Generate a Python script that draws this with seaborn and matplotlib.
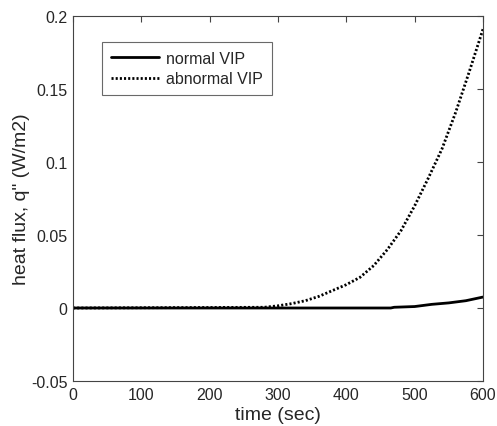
import matplotlib
matplotlib.use("Agg")
import matplotlib.pyplot as plt
import seaborn as sns
import pandas as pd

normal_t = [0, 100, 200, 300, 400, 465, 470, 500, 525, 550, 575, 600]
normal_q = [0, 0, 0, 0, 0, 0, 0.0005, 0.001, 0.0025, 0.0035, 0.005, 0.0075]

abnormal_t = [0, 280, 300, 320, 340, 360, 380, 400, 420, 440, 460, 480, 500,
              520, 540, 560, 580, 600]
abnormal_q = [0, 0.0005, 0.0015, 0.003, 0.005, 0.008, 0.012, 0.016, 0.021, 0.029,
              0.040, 0.053, 0.070, 0.089, 0.109, 0.134, 0.162, 0.191]

xticks = [0, 100, 200, 300, 400, 500, 600]
yticks = [-0.05, 0, 0.05, 0.1, 0.15, 0.2]
ytick_labels = ["-0.05", "0", "0.05", "0.1", "0.15", "0.2"]

sns.set_style("white")
plt.rcParams['font.family'] = ['Liberation Sans', 'DejaVu Sans']

fig = plt.figure(figsize=(4.97, 4.27), dpi=100)
ax = fig.add_axes([73/497, 1 - 382/427, 410/497, 365/427])

df_n = pd.DataFrame({"t": normal_t, "q": normal_q})
df_a = pd.DataFrame({"t": abnormal_t, "q": abnormal_q})
sns.lineplot(data=df_n, x="t", y="q", ax=ax, color="black", linewidth=2,
             label="normal VIP")
sns.lineplot(data=df_a, x="t", y="q", ax=ax, color="black", linewidth=2,
             linestyle=(0, (0.75, 0.75)), label="abnormal VIP")

ax.set_xlim(0, 600)
ax.set_ylim(-0.05, 0.2)
ax.set_xticks(xticks)
ax.set_yticks(yticks)
ax.set_yticklabels(ytick_labels)
ax.tick_params(direction="in", length=4, top=True, right=True, labelsize=11.5,
               color="#444444", width=0.8, pad=4)
for s in ax.spines.values():
    s.set_color("#444444")
    s.set_linewidth(0.8)
ax.set_xlabel("time (sec)", fontsize=14, labelpad=3)
ax.set_ylabel('heat flux, q" (W/m2)', fontsize=14, labelpad=1)

leg = ax.legend(loc="upper left", bbox_to_anchor=(29/410, 1 - 26/365), fontsize=11.5,
                frameon=True, fancybox=False, borderaxespad=0, handlelength=3.0,
                handletextpad=0.45, labelspacing=0.35, borderpad=0.55)
leg.get_frame().set_edgecolor("#444444")
leg.get_frame().set_linewidth(0.8)

fig.savefig("out.png", dpi=100)
